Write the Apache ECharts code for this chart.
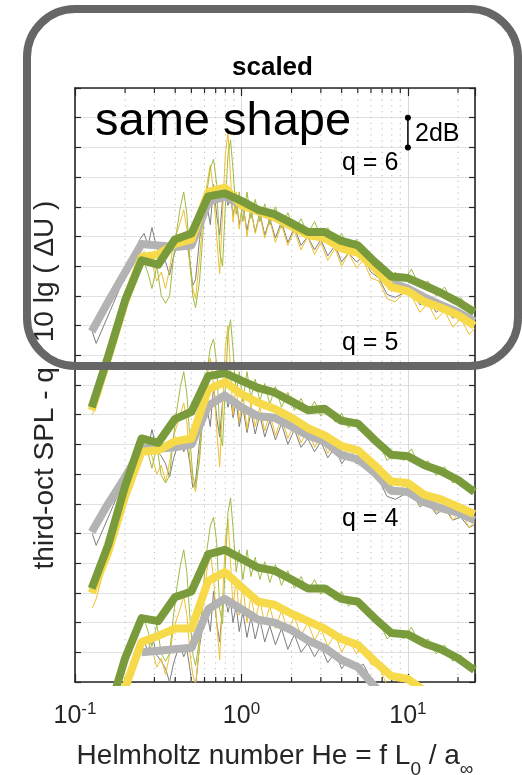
<!DOCTYPE html>
<html>
<head>
<meta charset="utf-8">
<script src="https://cdn.jsdelivr.net/npm/echarts@6/dist/echarts.min.js"></script>
<style>html,body{margin:0;padding:0;background:#fff}#c{width:522px;height:775px}</style>
</head>
<body>
<div id="c"></div>
<script>
// third-octave band centres (Helmholtz number)
const bandHe = [0.126, 0.158, 0.2, 0.251, 0.316, 0.398, 0.501, 0.631, 0.794, 1.0, 1.26, 1.58, 2.0, 2.51, 3.16, 3.98, 5.01, 6.31, 7.94, 10.0, 12.6, 15.8, 20.0, 25.1];

// third-octave spectra (thick lines), dB
const q6Gray   = [23.6, 25.6, 27.6, 29.5, 29.4, 29.3, 29.4, 32.3, 32.7, 32.1, 31.7, 31.3, 30.7, 30.2, 30.0, 29.4, 29.0, 28.0, 26.9, 26.5, 25.9, 25.4, 24.9, 24.3];
const q6Yellow = [18.3, 21.8, 25.6, 28.6, 28.8, 29.5, 29.8, 33.0, 33.3, 32.1, 31.7, 31.3, 30.7, 30.1, 29.9, 29.2, 28.9, 27.9, 26.6, 26.3, 25.6, 25.2, 24.7, 24.0];
const q6Green  = [18.5, 21.9, 25.7, 28.4, 28.1, 29.8, 30.2, 32.7, 32.9, 32.4, 31.8, 31.5, 30.9, 30.3, 30.3, 29.7, 29.4, 28.3, 27.3, 27.2, 26.7, 26.2, 25.6, 24.9];
const q5Gray   = [10.1, 12.0, 13.8, 15.7, 15.7, 15.8, 16.0, 18.6, 19.3, 18.5, 17.9, 17.8, 17.2, 16.6, 16.2, 15.3, 15.0, 14.1, 12.9, 12.8, 12.1, 11.7, 11.4, 10.9];
const q5Yellow = [6.0, 8.7, 12.5, 15.5, 15.6, 16.2, 16.4, 19.7, 20.2, 19.4, 18.8, 18.4, 17.8, 17.1, 16.6, 15.9, 15.6, 14.6, 13.5, 13.4, 12.6, 12.3, 11.8, 11.3];
const q5Green  = [6.3, 9.2, 13.2, 16.4, 16.1, 17.7, 18.2, 20.6, 20.8, 20.3, 19.8, 19.5, 18.9, 18.3, 18.4, 17.6, 17.4, 16.3, 15.3, 15.2, 14.6, 14.2, 13.6, 12.8];
const q4Gray   = [null, null, null, 2.0, 2.1, 2.2, 2.3, 4.9, 5.6, 4.9, 4.2, 4.0, 3.5, 2.8, 2.3, 1.5, 1.0, -0.3, -1.3, -1.5, -2.2, -2.7, -3.2, -3.8];
const q4Yellow = [-7.7, -4.2, -0.4, 2.7, 3.1, 3.6, 3.6, 6.8, 7.4, 6.4, 5.4, 5.2, 4.6, 4.1, 3.6, 2.9, 2.5, 1.4, 0.4, 0.2, -0.6, -1.0, -1.4, -2.0];
const q4Green  = [-5.6, -2.2, 1.6, 4.3, 4.1, 5.7, 6.1, 8.6, 8.9, 8.3, 7.7, 7.5, 6.9, 6.3, 6.3, 5.6, 5.4, 4.3, 3.3, 3.2, 2.6, 2.2, 1.6, 0.8];

// narrow-band spectra (thin lines)
const nbHe = [0.127, 0.134, 0.17, 0.21, 0.245, 0.26, 0.275, 0.29, 0.31, 0.33, 0.35, 0.37, 0.39, 0.41, 0.43, 0.45, 0.47, 0.49, 0.51, 0.53, 0.56, 0.59, 0.62, 0.65, 0.68, 0.71, 0.74, 0.77, 0.80, 0.83, 0.86, 0.89, 0.93, 0.97, 1.02, 1.08, 1.14, 1.21, 1.29, 1.38, 1.48, 1.6, 1.74, 1.9, 2.08, 2.28, 2.5, 2.75, 3.0, 3.3, 3.65, 4.0, 4.4, 4.9, 5.4, 6.0, 6.7, 7.5, 8.4, 9.4, 10.5, 11.8, 13.2, 14.8, 16.6, 18.6, 20.8, 23.3, 25.2];

const nb6Gray   = [23.6, 22.8, 25.5, 27.9, 29.8, 30.2, 29.4, 30.6, 29.2, 28.8, 28.3, 27.4, 28.6, 29.4, 29.8, 29.1, 29.6, 28.3, 26.7, 27.1, 29.8, 31.4, 32.1, 30.8, 33.5, 31.4, 30.1, 32.5, 33.1, 32.1, 32.8, 31.4, 32.5, 30.8, 32.1, 30.4, 31.8, 30.3, 31.6, 30.1, 31.2, 29.9, 31.0, 29.6, 30.6, 29.4, 30.0, 29.1, 29.8, 28.7, 29.4, 28.3, 28.9, 28.3, 28.6, 27.6, 27.2, 26.1, 25.9, 26.2, 26.4, 25.4, 25.7, 24.9, 25.3, 24.5, 24.7, 24.0, 24.2];
const nb6Yellow = [18.0, 18.6, 23.0, 26.6, 28.6, 29.0, 28.6, 28.2, 27.0, 27.6, 26.5, 27.8, 29.5, 30.3, 31.0, 31.8, 30.5, 28.0, 26.5, 25.8, 28.5, 31.5, 33.5, 34.8, 33.0, 30.0, 27.5, 31.5, 35.5, 37.0, 34.0, 31.0, 33.0, 30.5, 32.5, 30.0, 31.8, 30.2, 31.5, 29.9, 31.1, 29.6, 30.8, 29.4, 30.4, 29.1, 30.0, 28.8, 29.6, 28.4, 29.2, 28.0, 28.9, 27.9, 28.4, 27.2, 27.0, 25.8, 25.6, 26.2, 26.0, 24.9, 25.5, 24.4, 25.0, 23.9, 24.5, 23.4, 23.8];
const nb6Green  = [18.6, 19.4, 23.0, 26.2, 28.6, 28.3, 27.5, 26.5, 28.0, 26.0, 25.5, 26.0, 28.5, 30.5, 32.0, 33.0, 31.5, 28.5, 26.0, 25.2, 27.0, 30.5, 33.0, 34.6, 35.2, 33.5, 29.0, 28.0, 32.0, 35.5, 36.5, 34.5, 31.5, 33.0, 31.0, 33.0, 31.2, 32.5, 31.0, 32.2, 30.8, 32.0, 30.6, 31.6, 30.4, 31.2, 30.2, 31.0, 30.0, 30.6, 29.6, 30.2, 29.2, 29.8, 29.0, 28.6, 28.2, 27.0, 27.6, 27.0, 27.8, 26.6, 27.0, 26.0, 26.6, 25.5, 25.9, 25.0, 25.3];
const nb5Gray   = [10.0, 9.2, 11.9, 14.3, 16.2, 16.6, 15.8, 17.0, 15.6, 15.2, 14.7, 13.8, 15.0, 15.8, 16.2, 15.5, 16.0, 14.7, 13.1, 13.5, 16.2, 17.8, 18.5, 17.2, 19.9, 17.8, 16.5, 18.9, 19.5, 18.5, 19.2, 17.8, 18.9, 17.2, 18.5, 16.8, 18.2, 16.7, 18.0, 16.5, 17.6, 16.3, 17.4, 16.0, 17.0, 15.8, 16.4, 15.5, 16.2, 15.1, 15.8, 14.7, 15.3, 14.7, 15.0, 14.0, 13.6, 12.5, 12.3, 12.6, 12.8, 11.8, 12.1, 11.3, 11.7, 10.9, 11.1, 10.4, 10.6];
const nb5Yellow = [5.0, 5.6, 10.0, 13.6, 15.6, 16.0, 15.6, 15.2, 14.0, 14.6, 13.5, 14.8, 16.5, 17.3, 18.0, 18.8, 17.5, 15.0, 13.5, 12.8, 15.5, 18.5, 20.5, 21.8, 20.0, 17.0, 14.5, 18.5, 22.5, 24.0, 21.0, 18.0, 20.0, 17.5, 19.5, 17.0, 18.8, 17.2, 18.5, 16.9, 18.1, 16.6, 17.8, 16.4, 17.4, 16.1, 17.0, 15.8, 16.6, 15.4, 16.2, 15.0, 15.9, 14.9, 15.4, 14.2, 14.0, 12.8, 12.6, 13.2, 13.0, 11.9, 12.5, 11.4, 12.0, 10.9, 11.5, 10.4, 10.8];
const nb5Green  = [6.5, 7.3, 10.9, 14.1, 16.5, 16.2, 15.4, 14.4, 15.9, 13.9, 13.4, 13.9, 16.4, 18.4, 19.9, 20.9, 19.4, 16.4, 13.9, 13.1, 14.9, 18.4, 20.9, 22.5, 23.1, 21.4, 16.9, 15.9, 19.9, 23.4, 24.4, 22.4, 19.4, 20.9, 18.9, 20.9, 19.1, 20.4, 18.9, 20.1, 18.7, 19.9, 18.5, 19.5, 18.3, 19.1, 18.1, 18.9, 17.9, 18.5, 17.5, 18.1, 17.1, 17.7, 16.9, 16.5, 16.1, 14.9, 15.5, 14.9, 15.7, 14.5, 14.9, 13.9, 14.5, 13.4, 13.8, 12.9, 13.2];
const nb4Gray   = [-3.8, -4.6, -1.9, 0.5, 2.4, 2.8, 2.0, 3.2, 1.8, 1.4, 0.9, 0.0, 1.2, 2.0, 2.4, 1.7, 2.2, 0.9, -0.7, -0.3, 2.4, 4.0, 4.7, 3.4, 6.1, 4.0, 2.7, 5.1, 5.7, 4.7, 5.4, 4.0, 5.1, 3.4, 4.7, 3.0, 4.4, 2.9, 4.2, 2.7, 3.8, 2.5, 3.6, 2.2, 3.2, 2.0, 2.6, 1.7, 2.4, 1.3, 2.0, 0.9, 1.5, 0.9, 1.2, 0.2, -0.2, -1.3, -1.5, -1.2, -1.0, -2.0, -1.7, -2.5, -2.1, -2.9, -2.7, -3.4, -3.2];
const nb4Yellow = [-8.0, -7.4, -3.0, 0.6, 2.6, 3.0, 2.6, 2.2, 1.0, 1.6, 0.5, 1.8, 3.5, 4.3, 5.0, 5.8, 4.5, 2.0, 0.5, -0.2, 2.5, 5.5, 7.5, 8.8, 7.0, 4.0, 1.5, 5.5, 9.5, 11.0, 8.0, 5.0, 7.0, 4.5, 6.5, 4.0, 5.8, 4.2, 5.5, 3.9, 5.1, 3.6, 4.8, 3.4, 4.4, 3.1, 4.0, 2.8, 3.6, 2.4, 3.2, 2.0, 2.9, 1.9, 2.4, 1.2, 1.0, -0.2, -0.4, 0.2, 0.0, -1.1, -0.5, -1.6, -1.0, -2.1, -1.5, -2.6, -2.2];
const nb4Green  = [-5.5, -4.7, -1.1, 2.1, 4.5, 4.2, 3.4, 2.4, 3.9, 1.9, 1.4, 1.9, 4.4, 6.4, 7.9, 8.9, 7.4, 4.4, 1.9, 1.1, 2.9, 6.4, 8.9, 10.5, 11.1, 9.4, 4.9, 3.9, 7.9, 11.4, 12.4, 10.4, 7.4, 8.9, 6.9, 8.9, 7.1, 8.4, 6.9, 8.1, 6.7, 7.9, 6.5, 7.5, 6.3, 7.1, 6.1, 6.9, 5.9, 6.5, 5.5, 6.1, 5.1, 5.7, 4.9, 4.5, 4.1, 2.9, 3.5, 2.9, 3.7, 2.5, 2.9, 1.9, 2.5, 1.4, 1.8, 0.9, 1.2];

// axis ticks
const minorHe = [0.2, 0.3, 0.4, 0.5, 0.6, 0.7, 0.8, 0.9, 2, 3, 4, 5, 6, 7, 8, 9, 20];
const scaleBar = [[10, 36], [10, 38]];

const FONT = '"Liberation Sans", Arial, Helvetica, sans-serif';
const C = {
  grayThick: '#b3b3b3', grayThin: '#7d7d7d',
  yelThick: '#f7da4a', yelThin: '#efbf2c',
  grnThick: '#7a9b3b', grnThin: '#9dbc42'
};

function pairs(xs, ys) { return xs.map((x, i) => [x, ys[i] == null ? '-' : ys[i]]); }
function thin(arr, color) {
  return { type: 'line', data: pairs(nbHe, arr), symbol: 'none', showSymbol: false, silent: true,
    lineStyle: { width: 1, color: color }, itemStyle: { color: color }, z: 3, clip: true };
}
function thick(arr, color) {
  return { type: 'line', data: pairs(bandHe, arr), symbol: 'none', showSymbol: false, silent: true,
    lineStyle: { width: 8, color: color, join: 'round', cap: 'butt' }, itemStyle: { color: color }, z: 4, clip: true };
}

const series = [
  { type: 'custom', z: 1, silent: true, data: minorHe.map(v => [v, 0]),
    renderItem: function (params, api) {
      const cs = params.coordSys;
      const x = api.coord([api.value(0), 0])[0];
      return { type: 'group', children: [
        { type: 'line', shape: { x1: x, y1: cs.y, x2: x, y2: cs.y + cs.height },
          style: { stroke: '#b9b9b9', lineWidth: 1, lineDash: [1.2, 4.6] } },
        { type: 'line', shape: { x1: x, y1: cs.y + cs.height, x2: x, y2: cs.y + cs.height - 5 },
          style: { stroke: '#262626', lineWidth: 1.2 } },
        { type: 'line', shape: { x1: x, y1: cs.y, x2: x, y2: cs.y + 5 },
          style: { stroke: '#262626', lineWidth: 1.2 } }
      ] };
    } },
  thin(nb4Gray, C.grayThin), thin(nb4Yellow, C.yelThin), thin(nb4Green, C.grnThin),
  thick(q4Gray, C.grayThick), thick(q4Yellow, C.yelThick), thick(q4Green, C.grnThick),
  thin(nb5Gray, C.grayThin), thin(nb5Yellow, C.yelThin), thin(nb5Green, C.grnThin),
  thick(q5Gray, C.grayThick), thick(q5Yellow, C.yelThick), thick(q5Green, C.grnThick),
  thin(nb6Gray, C.grayThin), thin(nb6Yellow, C.yelThin), thin(nb6Green, C.grnThin),
  thick(q6Gray, C.grayThick), thick(q6Yellow, C.yelThick), thick(q6Green, C.grnThick),
  { type: 'line', data: scaleBar, symbol: 'circle', symbolSize: 6, showSymbol: true, silent: true,
    lineStyle: { color: '#000', width: 1.5 }, itemStyle: { color: '#000' }, z: 6 }
];

const axisLine = { show: true, onZero: false, lineStyle: { color: '#262626', width: 1.6 } };
const tickStyle = { color: '#262626', width: 1.2 };

const option = {
  animation: false,
  backgroundColor: '#fff',
  textStyle: { fontFamily: FONT },
  title: { text: 'scaled', left: 232, top: 55, padding: 0,
    textStyle: { fontSize: 26, fontWeight: 'bold', color: '#000', fontFamily: FONT } },
  grid: { left: 75, top: 88, width: 400, height: 594, containLabel: false, outerBoundsMode: 'none' },
  xAxis: [
    { type: 'log', logBase: 10, min: 0.1, max: 25.3, position: 'bottom',
      axisLine: axisLine,
      axisTick: { show: true, inside: true, length: 8, lineStyle: tickStyle },
      axisLabel: { margin: 19, color: '#262626', fontSize: 25,
        formatter: function (v) {
          const l = Math.log10(v), e = Math.round(l);
          if (Math.abs(l - e) > 1e-6) return '';
          return '{b|10}{s|' + e + '}';
        },
        rich: { b: { fontSize: 25, lineHeight: 30, color: '#262626', fontFamily: FONT },
                s: { fontSize: 17, lineHeight: 18, verticalAlign: 'top', color: '#262626', fontFamily: FONT } } },
      splitLine: { show: true, lineStyle: { color: '#d9d9d9', width: 1 } },
      name: 'Helmholtz number He = f L{s|0} / a{s|\u221E}',
      nameLocation: 'middle', nameGap: 43,
      nameTextStyle: { fontSize: 28, lineHeight: 46, color: '#262626', fontFamily: FONT,
        rich: { s: { fontSize: 19, lineHeight: 20, verticalAlign: 'bottom', color: '#262626', fontFamily: FONT } } } },
    { type: 'log', logBase: 10, min: 0.1, max: 25.3, position: 'top',
      axisLine: axisLine,
      axisTick: { show: true, inside: true, length: 8, lineStyle: tickStyle },
      axisLabel: { show: false }, splitLine: { show: false } }
  ],
  yAxis: [
    { type: 'value', min: 0, max: 40, interval: 2, position: 'left',
      axisLine: axisLine,
      axisTick: { show: true, inside: true, length: 6, lineStyle: tickStyle },
      axisLabel: { show: false },
      splitLine: { show: true, lineStyle: { color: '#e1e1e1', width: 1 } },
      name: 'third-oct SPL - q \u00B7 10 lg ( \u0394U )',
      nameLocation: 'middle', nameGap: 16,
      nameTextStyle: { fontSize: 28, color: '#262626', fontFamily: FONT } },
    { type: 'value', min: 0, max: 40, interval: 2, position: 'right',
      axisLine: axisLine,
      axisTick: { show: true, inside: true, length: 6, lineStyle: tickStyle },
      axisLabel: { show: false }, splitLine: { show: false } }
  ],
  series: series,
  graphic: [
    { type: 'text', x: 95, y: 122, z: 50,
      style: { text: 'same shape', fontSize: 47, fontFamily: FONT, fill: '#000', align: 'left', verticalAlign: 'middle' } },
    { type: 'text', x: 415, y: 134, z: 50,
      style: { text: '2dB', fontSize: 25, fontFamily: FONT, fill: '#000', align: 'left', verticalAlign: 'middle' } },
    { type: 'text', x: 342, y: 163, z: 50,
      style: { text: 'q = 6', fontSize: 25, fontFamily: FONT, fill: '#000', align: 'left', verticalAlign: 'middle' } },
    { type: 'text', x: 342, y: 343, z: 50,
      style: { text: 'q = 5', fontSize: 25, fontFamily: FONT, fill: '#000', align: 'left', verticalAlign: 'middle' } },
    { type: 'text', x: 342, y: 519, z: 50,
      style: { text: 'q = 4', fontSize: 25, fontFamily: FONT, fill: '#000', align: 'left', verticalAlign: 'middle' } },
    { type: 'rect', z: 100, silent: true,
      shape: { x: 27, y: 9, width: 491, height: 357, r: 48 },
      style: { fill: 'none', stroke: '#666666', lineWidth: 8 } }
  ]
};

const chart = echarts.init(document.getElementById('c'), null, { renderer: 'canvas' });
chart.setOption(option);
</script>
</body>
</html>
